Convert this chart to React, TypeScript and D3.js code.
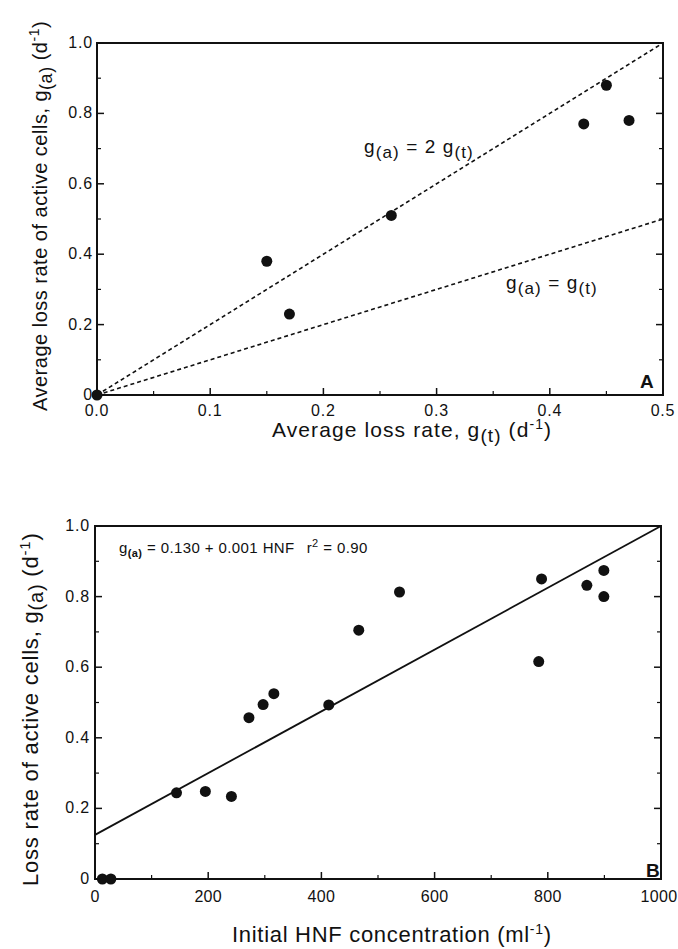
import React from 'react';
import * as d3 from 'd3';

// panel A: average loss rate of total vs active cells
const gTotal = [0, 0.15, 0.17, 0.26, 0.43, 0.45, 0.47];
const gActiveA = [0, 0.38, 0.23, 0.51, 0.77, 0.88, 0.78];
const refLineX = [0, 0.5];
const refSlopes = [2, 1];

// panel B: loss rate vs initial HNF
const hnf = [13, 28, 144, 195, 241, 272, 297, 316, 413, 466, 538, 784, 789, 869, 899, 899];
const gActiveB = [0, 0, 0.244, 0.248, 0.234, 0.457, 0.494, 0.525, 0.493, 0.705, 0.813, 0.616, 0.85, 0.832, 0.874, 0.8];
const fitX = [0, 1000];
const fitY = [0.125, 1.0];

const yTicks = [0, 0.2, 0.4, 0.6, 0.8, 1.0];
const yTickLabels = ['0', '0.2', '0.4', '0.6', '0.8', '1.0'];
const xTicksA = [0, 0.1, 0.2, 0.3, 0.4, 0.5];
const xTicksB = [0, 200, 400, 600, 800, 1000];

const FONT = '"Liberation Sans", Arial, sans-serif';

function Frame({ x, y, xMajor, xMinor, yMajor, yMinor }: any) {
  const [l, r] = x.range();
  const [b, t] = y.range();
  return (
    <g stroke="#111" fill="none">
      <rect x={l} y={t} width={r - l} height={b - t} strokeWidth={2} />
      {xMajor.map((v: number) => <line key={'xa' + v} x1={x(v)} x2={x(v)} y1={b} y2={b - 7} strokeWidth={1.5} />)}
      {xMinor.map((v: number) => <line key={'xi' + v} x1={x(v)} x2={x(v)} y1={b} y2={b - 4} strokeWidth={1.2} />)}
      {yMajor.map((v: number) => <g key={'ya' + v}>
        <line x1={l} x2={l + 7} y1={y(v)} y2={y(v)} strokeWidth={1.5} />
        <line x1={r} x2={r - 7} y1={y(v)} y2={y(v)} strokeWidth={1.5} />
      </g>)}
      {yMinor.map((v: number) => <g key={'yi' + v}>
        <line x1={l} x2={l + 4} y1={y(v)} y2={y(v)} strokeWidth={1.2} />
        <line x1={r} x2={r - 4} y1={y(v)} y2={y(v)} strokeWidth={1.2} />
      </g>)}
    </g>
  );
}

export default function App() {
  // panel A scales
  const xA = d3.scaleLinear().domain([0, 0.5]).range([97, 663]);
  const yA = d3.scaleLinear().domain([0, 1]).range([395, 43]);
  // panel B scales
  const xB = d3.scaleLinear().domain([0, 1000]).range([95, 661]);
  const yB = d3.scaleLinear().domain([0, 1]).range([879, 526]);

  const yMinor = d3.range(0.1, 1, 0.2);
  const xMinorA = d3.range(0.05, 0.5, 0.1);
  const xMinorB = d3.range(100, 1000, 200);

  const fitLine = d3.line<number>().x(d => xB(d)).y((d, i) => yB(fitY[i]));

  return (
    <svg width={678} height={949} style={{ position: 'absolute', left: 0, top: 0, background: '#fff' }}
      fontFamily={FONT}>
      {/* ---------- panel A ---------- */}
      {refSlopes.map(s => (
        <path key={s} d={d3.line<number>().x(d => xA(d)).y(d => yA(d * s))(refLineX) || ''}
          stroke="#111" strokeWidth={1.6} strokeDasharray="4,3" fill="none" />
      ))}
      <Frame x={xA} y={yA} xMajor={xTicksA} xMinor={xMinorA} yMajor={yTicks} yMinor={yMinor} />
      {gTotal.map((v, i) => <circle key={i} cx={xA(v)} cy={yA(gActiveA[i])} r={5.5} fill="#111" />)}
      {xTicksA.map(v => <text key={v} x={xA(v)} y={416} fontSize={16} letterSpacing={0.8} textAnchor="middle" fill="#111">{v.toFixed(1)}</text>)}
      {yTicks.map((v, i) => <text key={v} x={93} y={yA(v) + 5} fontSize={16} letterSpacing={0.8} textAnchor="end" fill="#111">{yTickLabels[i]}</text>)}
      <text x={364} y={153} fontSize={19} letterSpacing={1.1} fill="#111">g<tspan dy={5} fontSize={17}>(a)</tspan><tspan dy={-5}> = 2 g</tspan><tspan dy={5} fontSize={17}>(t)</tspan></text>
      <text x={506} y={289} fontSize={19} letterSpacing={1.1} fill="#111">g<tspan dy={5} fontSize={17}>(a)</tspan><tspan dy={-5}> = g</tspan><tspan dy={5} fontSize={17}>(t)</tspan></text>
      <text x={640} y={388} fontSize={19} fontWeight="bold" fill="#111">A</text>
      <text x={272} y={437} fontSize={21} letterSpacing={1.1} fill="#111">Average loss rate, g<tspan dy={5} fontSize={19}>(t)</tspan><tspan dy={-5}> (d</tspan><tspan dy={-8} fontSize={14}>-1</tspan><tspan dy={8}>)</tspan></text>
      <text transform="translate(47,411) rotate(-90)" fontSize={20} letterSpacing={0.5} fill="#111">Average loss rate of active cells, g<tspan dy={5} fontSize={18}>(a)</tspan><tspan dy={-5}> (d</tspan><tspan dy={-8} fontSize={14}>-1</tspan><tspan dy={8}>)</tspan></text>

      {/* ---------- panel B ---------- */}
      <path d={fitLine(fitX) || ''} stroke="#111" strokeWidth={1.8} fill="none" />
      <Frame x={xB} y={yB} xMajor={xTicksB} xMinor={xMinorB} yMajor={yTicks} yMinor={yMinor} />
      {hnf.map((v, i) => <circle key={i} cx={xB(v)} cy={yB(gActiveB[i])} r={5.5} fill="#111" />)}
      {xTicksB.map(v => <text key={v} x={Math.min(xB(v), 659)} y={902} fontSize={16} letterSpacing={0.3} textAnchor="middle" fill="#111">{v}</text>)}
      {yTicks.map((v, i) => <text key={v} x={90} y={yB(v) + 5} fontSize={16} letterSpacing={0.8} textAnchor="end" fill="#111">{yTickLabels[i]}</text>)}
      <text x={119} y={553} fontSize={15} letterSpacing={0.4} fill="#111">g<tspan dy={4} fontSize={11} fontWeight="bold">(a)</tspan><tspan dy={-4}> = 0.130 + 0.001 HNF</tspan><tspan dx={12}>r</tspan><tspan dy={-6} fontSize={11}>2</tspan><tspan dy={6}> = 0.90</tspan></text>
      <text x={646} y={877} fontSize={19} fontWeight="bold" fill="#111">B</text>
      <text x={232} y={942} fontSize={22} letterSpacing={0.7} fill="#111">Initial HNF concentration (ml<tspan dy={-8} fontSize={14}>-1</tspan><tspan dy={8}>)</tspan></text>
      <text transform="translate(38,886) rotate(-90)" fontSize={22} letterSpacing={0.8} fill="#111">Loss rate of active cells, g<tspan dy={5} fontSize={20}>(a)</tspan><tspan dy={-5}> (d</tspan><tspan dy={-8} fontSize={15}>-1</tspan><tspan dy={8}>)</tspan></text>
    </svg>
  );
}
